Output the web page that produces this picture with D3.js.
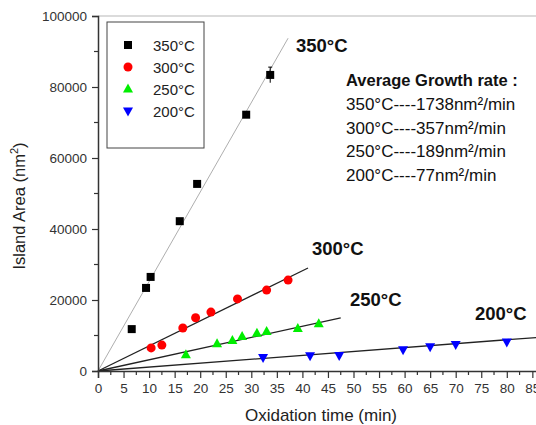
<!DOCTYPE html>
<html>
<head>
<meta charset="utf-8">
<script src="https://cdn.jsdelivr.net/npm/d3@7"></script>
<style>
  body { margin: 0; background: #fff; }
  text { font-family: Arial, "Liberation Sans", sans-serif; }
</style>
</head>
<body>
<div id="chart-area"></div>
<script>
// data
let t350 = [6.6, 9.4, 10.3, 16.0, 19.4, 29.0, 33.7];
let a350 = [11800, 23400, 26500, 42200, 52700, 72200, 83400];
let t300 = [10.4, 12.5, 16.6, 19.1, 22.1, 27.3, 33.0, 37.2];
let a300 = [6500, 7300, 12100, 15000, 16600, 20300, 22800, 25600];
let t250 = [17.2, 23.3, 26.3, 28.2, 31.1, 33.0, 39.1, 43.2];
let a250 = [4600, 7700, 8600, 9700, 10600, 11100, 12000, 13300];
let t200 = [32.3, 41.5, 47.2, 59.7, 65.0, 70.0, 80.0];
let a200 = [3800, 4300, 4400, 6000, 6800, 7500, 8200];

let seriesNames = ["350°C", "300°C", "250°C", "200°C"];
let fitSlopes = [2520, 706, 315, 110];   // nm^2 per min, lines through origin
let fitEnds = [37.2, 41.1, 47.5, 92];
let rateLines = ["350°C----1738nm²/min", "300°C----357nm²/min", "250°C----189nm²/min", "200°C----77nm²/min"];

let xTicks = d3.range(0, 91, 5);
let yTicks = [0, 20000, 40000, 60000, 80000, 100000];

let width = 536, height = 425;

let x = d3.scaleLinear().domain([0, 90]).range([98, 98 + 90 * 5.11]);
let y = d3.scaleLinear().domain([0, 100000]).range([371, 16]);

let svg = d3.select("#chart-area")
    .append("svg")
        .attr("width", width)
        .attr("height", height)

let series = [
    {name: seriesNames[0], t: t350, a: a350, color: "#000000", shape: "square"},
    {name: seriesNames[1], t: t300, a: a300, color: "#ff0000", shape: "circle"},
    {name: seriesNames[2], t: t250, a: a250, color: "#00ee00", shape: "up"},
    {name: seriesNames[3], t: t200, a: a200, color: "#0000ff", shape: "down"}
];

function marker(sel, shape, color) {
    if (shape == "square") {
        sel.append("rect").attr("x", -4).attr("y", -4).attr("width", 8).attr("height", 8).attr("fill", color)
    } else if (shape == "circle") {
        sel.append("circle").attr("r", 4.5).attr("fill", color)
    } else if (shape == "up") {
        sel.append("path").attr("d", "M0,-5.5L5,3.5L-5,3.5Z").attr("fill", color)
    } else {
        sel.append("path").attr("d", "M0,5.5L5,-3.5L-5,-3.5Z").attr("fill", color)
    }
}

// top frame line
svg.append("line")
    .attr("x1", x(0)).attr("x2", width)
    .attr("y1", y(100000)).attr("y2", y(100000))
    .attr("stroke", "#cfcfcf").attr("stroke-width", 1.5)

// fit lines
series.forEach((s, i) => {
    svg.append("line")
        .attr("x1", x(0)).attr("y1", y(0))
        .attr("x2", x(fitEnds[i])).attr("y2", y(fitSlopes[i] * fitEnds[i]))
        .attr("stroke", i == 0 ? "#999" : "#222")
        .attr("stroke-width", i == 0 ? 0.8 : 1.3)
})

// error bar on the last 350 point
svg.append("line")
    .attr("x1", x(t350[6])).attr("x2", x(t350[6]))
    .attr("y1", y(a350[6] - 2200)).attr("y2", y(a350[6] + 2200))
    .attr("stroke", "#000").attr("stroke-width", 1)
svg.append("line")
    .attr("x1", x(t350[6]) - 2).attr("x2", x(t350[6]) + 2)
    .attr("y1", y(a350[6] + 2200)).attr("y2", y(a350[6] + 2200))
    .attr("stroke", "#000").attr("stroke-width", 1)

// points
series.forEach(s => {
    s.t.forEach((tv, j) => {
        let g = svg.append("g").attr("transform", "translate(" + x(tv) + "," + y(s.a[j]) + ")")
        marker(g, s.shape, s.color)
    })
})

// axes
let xAxisCall = d3.axisBottom(x).tickValues(xTicks).tickSize(7).tickPadding(5).tickFormat(d3.format("d"))
let xAxisGroup = svg.append("g")
    .attr("transform", "translate(0," + y(0) + ")")
    .call(xAxisCall)
xAxisGroup.select(".domain").attr("stroke", "#333").attr("stroke-width", 1.5)
xAxisGroup.selectAll(".tick line").attr("stroke", "#333").attr("stroke-width", 1.2)
xAxisGroup.selectAll("text").attr("font-size", "13.5px").attr("fill", "#333")

// minor x ticks
xAxisGroup.selectAll(".minor")
    .data(xTicks.map(d => d + 2.5))
    .enter().append("line")
        .attr("x1", d => x(d)).attr("x2", d => x(d))
        .attr("y1", 0).attr("y2", 4)
        .attr("stroke", "#333").attr("stroke-width", 1.2)

let yAxisCall = d3.axisLeft(y).tickValues(yTicks).tickSize(6).tickPadding(5).tickFormat(d => d)
let yAxisGroup = svg.append("g")
    .attr("transform", "translate(" + x(0) + ",0)")
    .call(yAxisCall)
yAxisGroup.select(".domain").attr("stroke", "#333").attr("stroke-width", 1.5)
yAxisGroup.selectAll(".tick line").attr("stroke", "#333").attr("stroke-width", 1.2)
yAxisGroup.selectAll("text").attr("font-size", "13.5px").attr("fill", "#333")

yAxisGroup.selectAll(".minor")
    .data(yTicks.slice(0, -1).map(d => d + 10000))
    .enter().append("line")
        .attr("x1", 0).attr("x2", -4)
        .attr("y1", d => y(d)).attr("y2", d => y(d))
        .attr("stroke", "#333").attr("stroke-width", 1.2)

// axis labels
svg.append("text")
    .attr("x", 321)
    .attr("y", 421)
    .attr("font-size", "17px")
    .attr("text-anchor", "middle")
    .attr("fill", "#222")
    .text("Oxidation time (min)")

let yLabel = svg.append("text")
    .attr("transform", "translate(25,206) rotate(-90)")
    .attr("font-size", "16.5px")
    .attr("text-anchor", "middle")
    .attr("fill", "#222")
yLabel.append("tspan").text("Island Area (nm")
yLabel.append("tspan").attr("dy", -7).attr("font-size", "11px").text("2")
yLabel.append("tspan").attr("dy", 7).text(")")

// legend
let legend = svg.append("g")
legend.append("rect")
    .attr("x", 107).attr("y", 22).attr("width", 97).attr("height", 126)
    .attr("fill", "#fff").attr("stroke", "#444").attr("stroke-width", 1)
series.forEach((s, i) => {
    let g = legend.append("g").attr("transform", "translate(128," + (45 + i * 22) + ")")
    marker(g, s.shape, s.color)
    g.append("text").attr("x", 25).attr("y", 5.5)
        .attr("font-size", "15px").attr("fill", "#222")
        .text(s.name)
})

// series labels next to fit lines
let labelPos = [[296, 52], [312, 255], [350, 306], [475, 320]]
seriesNames.forEach((n, i) => {
    svg.append("text")
        .attr("x", labelPos[i][0]).attr("y", labelPos[i][1])
        .attr("font-size", "18.5px").attr("font-weight", "bold").attr("fill", "#111")
        .text(n)
})

// growth rate notes
svg.append("text")
    .attr("x", 346).attr("y", 86)
    .attr("font-size", "16.5px").attr("font-weight", "bold").attr("fill", "#111")
    .text("Average Growth rate :")
rateLines.forEach((r, i) => {
    svg.append("text")
        .attr("x", 346).attr("y", 110 + i * 23.5)
        .attr("font-size", "17px").attr("fill", "#111")
        .text(r)
})
</script>
</body>
</html>
